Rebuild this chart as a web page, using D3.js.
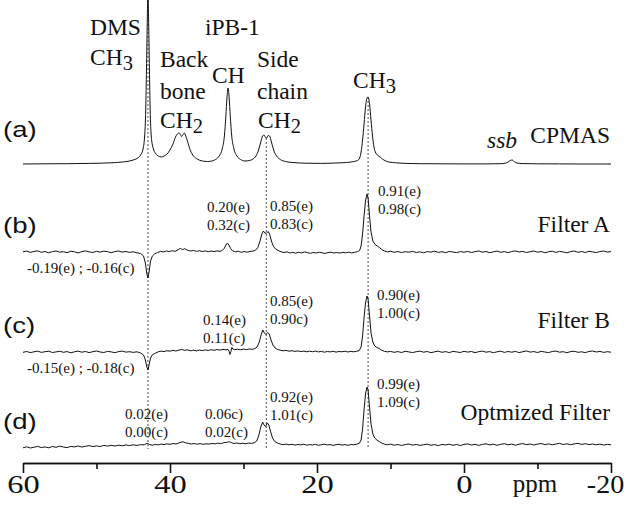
<!DOCTYPE html>
<html>
<head>
<meta charset="utf-8">
<script src="https://cdn.jsdelivr.net/npm/d3@7"></script>
<style>
    body { margin: 0; background: #fff; }
    svg { display: block; }
</style>
</head>
<body>
<div id="chart"></div>
<script>

// axis ticks (ppm)
const ppmTicks = [60, 40, 20, 0, -20];
const ppmMinorTicks = [50, 30, 10, -10];

// traces, from top to bottom
const traceIds = ["a", "b", "c", "d"];
const traceLabels = ["(a)", "(b)", "(c)", "(d)"];
const filterNames = ["CPMAS", "Filter A", "Filter B", "Optmized Filter"];

// dotted reference lines: DMS, side chain CH2, CH3
const markerPpm = [43.0, 26.9, 13.05];

// ratio annotations for each filtered trace
const ratiosB = [["0.20(e)", "0.32(c)"], ["0.85(e)", "0.83(c)"], ["0.91(e)", "0.98(c)"], ["-0.19(e) ; -0.16(c)"]];
const ratiosC = [["0.14(e)", "0.11(c)"], ["0.85(e)", "0.90c)"], ["0.90(e)", "1.00(c)"], ["-0.15(e) ; -0.18(c)"]];
const ratiosD = [["0.02(e)", "0.00(c)"], ["0.06c)", "0.02(c)"], ["0.92(e)", "1.01(c)"], ["0.99(e)", "1.09(c)"]];

// spectra: [ppm, intensity (a.u.)]
const spectrumA = [
    [60, 0], [57, 0.2], [54, 0.3], [51, 0.6], [48, 1.2], [46.5, 2], [45.5, 3], [45, 4], [44.5, 5.5], [44, 9],
    [43.7, 14], [43.45, 28], [43.3, 55], [43.2, 95], [43.1, 140], [43.0, 172], [42.9, 140], [42.8, 95], [42.7, 55],
    [42.55, 28], [42.3, 16], [42.0, 11], [41.6, 8], [41.2, 7], [40.8, 8], [40.4, 10], [40.0, 14], [39.6, 20],
    [39.25, 27], [39.0, 30], [38.75, 31], [38.55, 29], [38.4, 27.5], [38.25, 29], [38.05, 31], [37.85, 28],
    [37.55, 21], [37.2, 13], [36.8, 8], [36.3, 5], [35.6, 3], [34.9, 2.5], [34.3, 3], [33.8, 4.5], [33.3, 8],
    [32.9, 15], [32.6, 28], [32.4, 48], [32.25, 66], [32.1, 76], [31.95, 66], [31.8, 48], [31.6, 28], [31.3, 15],
    [30.9, 8], [30.4, 4.5], [29.8, 3], [29.2, 3.5], [28.7, 5], [28.3, 8], [27.95, 14], [27.65, 22], [27.4, 28],
    [27.2, 29], [27.0, 26.5], [26.85, 26], [26.65, 28.5], [26.45, 28], [26.2, 22], [25.9, 14], [25.5, 8], [25.0, 4.5],
    [24.3, 2.5], [23.3, 1.5], [21.5, 0.8], [19.5, 0.6], [17.5, 1], [16, 1.5], [15, 2.5], [14.5, 3.5], [14.2, 6],
    [14.0, 12], [13.8, 24], [13.6, 40], [13.4, 57], [13.2, 66], [13.05, 67], [12.85, 60], [12.65, 44], [12.45, 28],
    [12.25, 17], [12.0, 11], [11.7, 8.5], [11.4, 7], [11.1, 5], [10.7, 3.2], [10.2, 2], [9.3, 1.2], [8, 0.6],
    [6, 0.3], [3, 0.2], [0, 0.1], [-3, 0.1], [-5, 0.3], [-5.6, 0.8], [-6.0, 2], [-6.3, 3.5], [-6.55, 4], [-6.8, 2.5],
    [-7.2, 1], [-8, 0.4], [-10, 0.2], [-13, 0.1], [-16, 0], [-20, 0]
];

const spectrumB = [
    [60, 0.2], [59.5, 0.9], [59, -0.4], [58.5, 0.6], [58, 1.2], [57.5, -0.3], [57, 0.5], [56.5, -0.8], [56, 0.4],
    [55.5, 1.0], [55, -0.2], [54.5, 0.3], [54, -0.7], [53.5, 0.8], [53, 0.2], [52.5, -0.9], [52, 0.4], [51.5, 1.1],
    [51, 0.1], [50.5, -0.5], [50, 0.7], [49.5, -0.2], [49, 0.9], [48.5, 0.3], [48, -0.7], [47.5, 0.4], [47, 1.0],
    [46.5, -0.1], [46, 0.5], [45.5, -0.4], [45, 0.2], [44.5, -0.8], [44, -1.5], [43.6, -4], [43.35, -11],
    [43.15, -22], [43.0, -26], [42.85, -20], [42.65, -9], [42.4, -4], [42.1, -2], [41.7, -0.5], [41.3, 0.6],
    [40.9, 0.1], [40.5, 1.0], [40.1, 0.4], [39.7, 1.3], [39.3, 0.7], [38.9, 2.2], [38.6, 3.6], [38.3, 2.4],
    [38.0, 3.3], [37.6, 1.8], [37.2, 1.0], [36.8, 1.6], [36.4, 0.6], [36.0, 1.3], [35.6, 0.4], [35.2, 1.1],
    [34.8, 0.3], [34.4, 1.0], [34.0, 0.4], [33.6, 1.1], [33.2, 0.6], [32.9, 1.6], [32.6, 3.8], [32.4, 7], [32.2, 9],
    [32.0, 7], [31.75, 3.5], [31.5, 1.2], [31.1, 0.2], [30.7, 0.7], [30.3, -0.3], [29.9, 0.5], [29.5, -0.2],
    [29.1, 0.6], [28.7, 0.9], [28.35, 1.8], [28.05, 4.5], [27.75, 11], [27.5, 18], [27.3, 21], [27.1, 19],
    [26.9, 18.5], [26.65, 20.5], [26.45, 18], [26.2, 11], [25.95, 6], [25.65, 3], [25.3, 1.5], [24.9, 0.3],
    [24.5, -0.6], [24.1, 0.2], [23.7, -1.0], [23.3, -0.4], [22.9, -1.2], [22.5, -0.3], [22.1, -0.9], [21.7, 0.1],
    [21.3, -0.7], [20.9, -1.3], [20.5, -0.5], [20.1, -1.0], [19.7, -0.2], [19.3, -0.8], [18.9, -1.4], [18.5, -0.6],
    [18.1, -0.2], [17.7, -1.0], [17.3, -0.5], [16.9, -1.1], [16.5, -0.3], [16.1, -0.8], [15.7, -0.2], [15.3, -0.9],
    [14.9, -0.3], [14.5, 0.3], [14.2, 1.5], [14.0, 6], [13.8, 18], [13.6, 36], [13.4, 51], [13.2, 58], [13.05, 54],
    [12.85, 36], [12.65, 20], [12.4, 11], [12.1, 7.5], [11.8, 6], [11.5, 4.5], [11.2, 2.5], [10.8, 1.0], [10.4, 0.1],
    [10.0, 0.8], [9.5, -0.3], [9.0, 0.5], [8.5, -0.6], [8.0, 0.3], [7.5, -0.2], [7.0, 0.7], [6.5, -0.5], [6.0, 0.2],
    [5.5, -0.8], [5.0, 0.4], [4.5, -0.1], [4.0, 0.8], [3.5, -0.4], [3.0, 0.3], [2.5, -0.7], [2.0, 0.5], [1.5, 0],
    [1.0, -0.6], [0.5, 0.4], [0, -0.2], [-0.5, 0.6], [-1.0, -0.5], [-1.5, 0.3], [-2.0, 1.0], [-2.5, -0.2],
    [-3.0, 0.5], [-3.5, -0.7], [-4.0, 0.2], [-4.5, 0.9], [-5.0, -0.3], [-5.5, 0.4], [-6.0, -0.6], [-6.5, 0.5],
    [-7.0, 1.1], [-7.5, 0], [-8.0, 0.6], [-8.5, -0.5], [-9.0, 0.3], [-9.5, 1.0], [-10.0, -0.2], [-10.5, 0.5],
    [-11.0, -0.7], [-11.5, 0.2], [-12.0, 0.8], [-12.5, -0.4], [-13.0, 0.6], [-13.5, 0], [-14.0, -0.8], [-14.5, 0.4],
    [-15.0, 1.0], [-15.5, -0.3], [-16.0, 0.5], [-16.5, -0.5], [-17.0, 0.7], [-17.5, 0.1], [-18.0, -0.6],
    [-18.5, 0.5], [-19.0, 1.0], [-19.5, 0], [-20.0, 0.4]
];

const spectrumC = [
    [60, -0.3], [59.5, 0.5], [59, -0.6], [58.5, 0.2], [58, 0.9], [57.5, -0.4], [57, 0.3], [56.5, 0.8], [56, -0.5],
    [55.5, 0.1], [55, 0.7], [54.5, -0.3], [54, 0.4], [53.5, -0.8], [53, 0.2], [52.5, 0.9], [52, -0.2], [51.5, 0.5],
    [51, -0.6], [50.5, 0.3], [50, 1.0], [49.5, 0], [49, -0.5], [48.5, 0.6], [48, 0.1], [47.5, -0.7], [47, 0.4],
    [46.5, 0.9], [46, -0.1], [45.5, 0.3], [45, -0.4], [44.5, 0.2], [44, -1.0], [43.6, -3], [43.35, -8],
    [43.15, -15], [43.0, -18], [42.85, -13], [42.65, -6], [42.4, -2.8], [42.0, -1.2], [41.6, 0.2], [41.2, 0.9],
    [40.8, 0.4], [40.4, 1.3], [40.0, 0.8], [39.6, 1.6], [39.2, 1.0], [38.8, 1.9], [38.4, 2.6], [38.0, 1.6],
    [37.6, 2.2], [37.2, 1.2], [36.8, 1.8], [36.4, 1.1], [36.0, 2.0], [35.6, 1.4], [35.2, 2.1], [34.8, 1.5],
    [34.4, 2.3], [34.0, 1.7], [33.6, 2.5], [33.2, 1.9], [32.8, 2.6], [32.4, 2.2], [32.1, 2.6], [31.95, 0.5],
    [31.85, -2.5], [31.72, 0.5], [31.58, 4.5], [31.45, 3], [31.2, 2.3], [30.8, 2.8], [30.4, 2.2], [30.0, 2.9],
    [29.6, 2.4], [29.2, 3.0], [28.8, 2.7], [28.45, 3.4], [28.15, 5], [27.85, 10], [27.6, 17], [27.38, 22],
    [27.15, 19], [26.95, 17.5], [26.7, 19.5], [26.5, 18], [26.25, 12], [26.0, 7], [25.7, 4], [25.35, 2.5],
    [25.0, 1.8], [24.6, 1.2], [24.2, 1.6], [23.8, 0.8], [23.4, 1.3], [23.0, 0.6], [22.6, 1.1], [22.2, 0.4],
    [21.8, 0.9], [21.4, 0.2], [21.0, 0.8], [20.6, 0.3], [20.2, 0.9], [19.8, 0.1], [19.4, 0.6], [19.0, -0.2],
    [18.6, 0.5], [18.2, 0.1], [17.8, 0.7], [17.4, -0.1], [17.0, 0.5], [16.6, 0.2], [16.2, 0.8], [15.8, 0],
    [15.4, 0.6], [15.0, 0.2], [14.6, 0.7], [14.25, 1.4], [14.0, 5], [13.8, 16], [13.6, 34], [13.4, 49], [13.2, 56],
    [13.05, 53], [12.85, 36], [12.65, 19], [12.4, 10], [12.15, 6], [11.85, 4.5], [11.55, 3.5], [11.2, 1.8],
    [10.8, 0.6], [10.4, 0.1], [10.0, 0.6], [9.5, -0.3], [9.0, 0.4], [8.5, -0.5], [8.0, 0.7], [7.5, 0.1], [7.0, -0.6],
    [6.5, 0.3], [6.0, 0.9], [5.5, -0.2], [5.0, 0.5], [4.5, -0.7], [4.0, 0.2], [3.5, 0.8], [3.0, -0.3], [2.5, 0.4],
    [2.0, -0.6], [1.5, 0.6], [1.0, 0.1], [0.5, -0.5], [0, 0.7], [-0.5, -0.1], [-1.0, 0.5], [-1.5, -0.6], [-2.0, 0.3],
    [-2.5, 0.9], [-3.0, -0.2], [-3.5, 0.4], [-4.0, -0.7], [-4.5, 0.2], [-5.0, 0.8], [-5.5, -0.4], [-6.0, 0.5],
    [-6.5, -0.2], [-7.0, 0.6], [-7.5, -0.6], [-8.0, 0.3], [-8.5, 1.0], [-9.0, -0.1], [-9.5, 0.4], [-10.0, -0.5],
    [-10.5, 0.6], [-11.0, 0], [-11.5, -0.6], [-12.0, 0.5], [-12.5, 0.9], [-13.0, -0.2], [-13.5, 0.3], [-14.0, -0.7],
    [-14.5, 0.4], [-15.0, 0.8], [-15.5, -0.3], [-16.0, 0.2], [-16.5, -0.6], [-17.0, 0.5], [-17.5, 1.0], [-18.0, 0],
    [-18.5, 0.6], [-19.0, -0.4], [-19.5, 0.3], [-20.0, -0.2]
];

const spectrumD = [
    [60, -2.8], [59.5, -1.8], [59, -3.0], [58.5, -2.2], [58, -1.4], [57.5, -2.6], [57, -1.9], [56.5, -2.8],
    [56, -1.5], [55.5, -2.3], [55, -1.2], [54.5, -2.0], [54, -2.6], [53.5, -1.4], [53, -1.9], [52.5, -1.0],
    [52, -2.0], [51.5, -1.3], [51, -0.6], [50.5, -1.6], [50, -0.9], [49.5, -1.5], [49, -0.4], [48.5, -1.1],
    [48, -0.3], [47.5, -1.0], [47, -0.2], [46.5, -0.8], [46, 0.1], [45.5, -0.6], [45, 0.2], [44.5, -0.4], [44, 0.3],
    [43.5, 0.2], [43.1, 1.8], [42.8, 0.5], [42.4, -0.2], [42.0, 0.6], [41.6, 0.1], [41.2, 0.9], [40.8, 0.4],
    [40.4, 1.2], [40.0, 0.7], [39.6, 1.5], [39.2, 1.0], [38.8, 2.0], [38.5, 2.8], [38.2, 3.2], [37.9, 2.2],
    [37.5, 1.6], [37.1, 1.0], [36.7, 1.5], [36.3, 0.8], [35.9, 1.4], [35.5, 0.7], [35.1, 1.2], [34.7, 0.9],
    [34.3, 1.6], [33.9, 1.1], [33.5, 1.8], [33.1, 1.4], [32.7, 2.3], [32.3, 2.6], [31.95, 3.3], [31.6, 2.2],
    [31.3, 1.5], [30.9, 2.0], [30.5, 1.3], [30.1, 1.8], [29.7, 1.2], [29.3, 1.9], [28.9, 1.6], [28.5, 2.4],
    [28.2, 4], [27.9, 10], [27.65, 18], [27.4, 23], [27.2, 20], [27.0, 18.5], [26.75, 22], [26.55, 20], [26.3, 13],
    [26.05, 7], [25.75, 3.5], [25.4, 2], [25.0, 1.0], [24.6, 0.3], [24.2, 0.9], [23.8, 0.2], [23.4, 0.7],
    [23.0, -0.1], [22.6, 0.5], [22.2, 0.1], [21.8, 0.8], [21.4, -0.2], [21.0, 0.4], [20.6, 0.0], [20.2, 0.7],
    [19.8, -0.3], [19.4, 0.3], [19.0, 0.8], [18.6, 0.0], [18.2, 0.5], [17.8, -0.4], [17.4, 0.3], [17.0, 0.7],
    [16.6, -0.1], [16.2, 0.4], [15.8, -0.3], [15.4, 0.5], [15.0, 0.2], [14.6, 0.8], [14.25, 1.6], [14.0, 5],
    [13.8, 16], [13.6, 35], [13.4, 51], [13.2, 58], [13.05, 55], [12.85, 38], [12.65, 21], [12.4, 11], [12.15, 7],
    [11.85, 5], [11.55, 3.5], [11.2, 2], [10.8, 0.8], [10.4, 0.2], [10.0, 0.9], [9.5, -0.2], [9.0, 0.5], [8.5, -0.5],
    [8.0, 0.4], [7.5, 1.0], [7.0, -0.1], [6.5, 0.6], [6.0, -0.4], [5.5, 0.3], [5.0, 0.9], [4.5, -0.3], [4.0, 0.4],
    [3.5, -0.6], [3.0, 0.5], [2.5, 0.1], [2.0, 0.8], [1.5, -0.3], [1.0, 0.5], [0.5, -0.5], [0, 0.6], [-0.5, 1.1],
    [-1.0, 0], [-1.5, 0.7], [-2.0, -0.4], [-2.5, 0.6], [-3.0, 1.2], [-3.5, 0.1], [-4.0, 0.8], [-4.5, -0.3],
    [-5.0, 0.7], [-5.5, 1.3], [-6.0, 0.2], [-6.5, 0.9], [-7.0, -0.2], [-7.5, 0.8], [-8.0, 1.4], [-8.5, 0.3],
    [-9.0, 1.0], [-9.5, 0], [-10.0, 0.9], [-10.5, 1.5], [-11.0, 0.4], [-11.5, 1.1], [-12.0, 0.2], [-12.5, 1.0],
    [-13.0, 1.6], [-13.5, 0.5], [-14.0, 1.2], [-14.5, 0.3], [-15.0, 1.1], [-15.5, 1.7], [-16.0, 0.6], [-16.5, 1.3],
    [-17.0, 0.4], [-17.5, 1.0], [-18.0, 0.2], [-18.5, 0.9], [-19.0, -0.1], [-19.5, 0.6], [-20.0, 0.2]
];


class SpectraVis {

    constructor(parentElement) {
        this.parentElement = parentElement;
        this.spectra = [spectrumA, spectrumB, spectrumC, spectrumD];
        this.ratios = [[], ratiosB, ratiosC, ratiosD];

        this.serif = "'Liberation Serif', 'Times New Roman', Times, serif";
        this.sans = "'Liberation Sans', Arial, Helvetica, sans-serif";

        this.initVis();
    }

    initVis() {
        let vis = this;

        vis.width = 630;
        vis.height = 505;

        vis.svg = d3.select("#" + vis.parentElement).append("svg")
            .attr("width", vis.width)
            .attr("height", vis.height)
            .style("background", "#fff");

        // ppm runs right to left
        vis.x = d3.scaleLinear()
            .domain([60, -20])
            .range([23, 611]);

        // baseline of every trace
        vis.baseline = d3.scaleOrdinal()
            .domain(traceIds)
            .range([164, 252, 352, 445]);

        // one intensity unit = one pixel
        vis.yFor = id => d3.scaleLinear()
            .domain([0, 100])
            .range([vis.baseline(id), vis.baseline(id) - 100]);

        vis.drawMarkers();
        vis.drawTraces();
        vis.drawAxis();
        vis.drawLabels();
    }

    drawMarkers() {
        let vis = this;
        let yA = vis.yFor("a");

        vis.svg.append("g")
            .attr("class", "markers")
            .selectAll("line")
            .data(markerPpm)
            .enter().append("line")
            .attr("x1", d => vis.x(d))
            .attr("x2", d => vis.x(d))
            .attr("y1", d => yA(d3.least(spectrumA, p => Math.abs(p[0] - d))[1]))
            .attr("y2", vis.baseline("d") + 4)
            .attr("stroke", "#222")
            .attr("stroke-width", 0.8)
            .attr("stroke-dasharray", "2,2");
    }

    drawTraces() {
        let vis = this;

        traceIds.forEach((id, i) => {
            let y = vis.yFor(id);
            let line = d3.line()
                .x(d => vis.x(d[0]))
                .y(d => y(d[1]))
                .curve(id === "a" ? d3.curveMonotoneX : d3.curveLinear);

            vis.svg.append("path")
                .datum(vis.spectra[i].slice().reverse())
                .attr("class", "trace trace-" + id)
                .attr("fill", "none")
                .attr("stroke", "#111")
                .attr("stroke-width", 1)
                .attr("stroke-linejoin", "round")
                .attr("d", line);
        });
    }

    drawAxis() {
        let vis = this;
        let axisY = 463;

        let major = d3.axisBottom(vis.x)
            .tickValues(ppmTicks)
            .tickSize(10)
            .tickSizeOuter(0)
            .tickFormat(d => String(d));

        let minor = d3.axisBottom(vis.x)
            .tickValues(ppmMinorTicks)
            .tickSize(6)
            .tickSizeOuter(0)
            .tickFormat("");

        vis.svg.append("g")
            .attr("class", "x-axis minor")
            .attr("transform", `translate(0, ${axisY})`)
            .call(minor);

        vis.xAxisG = vis.svg.append("g")
            .attr("class", "x-axis")
            .attr("transform", `translate(0, ${axisY})`)
            .call(major);

        vis.svg.selectAll(".x-axis path, .x-axis line")
            .attr("stroke", "#111")
            .attr("stroke-width", 1.6);

        // the printed tick numbers are set wide; the last one is pulled in from the edge
        let last = ppmTicks[ppmTicks.length - 1];
        vis.xAxisG.selectAll("text")
            .attr("font-family", vis.serif)
            .attr("font-size", 25)
            .attr("fill", "#111")
            .attr("dy", null)
            .attr("y", 0)
            .attr("transform", d => d === last
                ? "translate(-6, 30) scale(1.12, 1)"
                : "translate(0, 30) scale(1.3, 1)");

        vis.svg.append("text")
            .attr("x", 535)
            .attr("y", 492)
            .attr("text-anchor", "middle")
            .attr("font-family", vis.serif)
            .attr("font-size", 25)
            .attr("fill", "#111")
            .text("ppm");
    }

    // helper for a label with a subscript
    subText(x, y, main, sub, size) {
        let vis = this;
        let t = vis.svg.append("text")
            .attr("x", x)
            .attr("y", y)
            .attr("font-family", vis.serif)
            .attr("font-size", size)
            .attr("fill", "#111")
            .text(main);
        if (sub) {
            t.append("tspan")
                .attr("dy", 5)
                .attr("font-size", size - 3)
                .text(sub);
        }
        return t;
    }

    drawLabels() {
        let vis = this;
        let big = 23.5;

        // peak assignments above trace (a)
        vis.subText(90, 35, "DMS", null, big);
        vis.subText(90, 65, "CH", "3", big);
        vis.subText(205, 35, "iPB-1", null, big);
        vis.subText(160, 67, "Back", null, big);
        vis.subText(160, 99, "bone", null, big);
        vis.subText(160, 128, "CH", "2", big);
        vis.subText(212, 83, "CH", null, big);
        vis.subText(257, 67, "Side", null, big);
        vis.subText(257, 99, "chain", null, big);
        vis.subText(258, 128, "CH", "2", big);
        vis.subText(353, 88, "CH", "3", big);

        vis.svg.append("text")
            .attr("x", 487)
            .attr("y", 148)
            .attr("font-family", vis.serif)
            .attr("font-style", "italic")
            .attr("font-size", big)
            .attr("fill", "#111")
            .text("ssb");

        // trace letters and filter names
        let letterY = [137, 233, 333, 429];
        let nameY = [143, 232, 328, 420];

        vis.svg.append("g").selectAll("text")
            .data(traceLabels)
            .enter().append("text")
            .attr("transform", (d, i) => `translate(3, ${letterY[i]}) scale(1.25, 1)`)
            .attr("font-family", vis.sans)
            .attr("font-size", 22)
            .attr("fill", "#111")
            .text(d => d);

        vis.svg.append("g").selectAll("text")
            .data(filterNames)
            .enter().append("text")
            .attr("x", 610)
            .attr("y", (d, i) => nameY[i])
            .attr("text-anchor", "end")
            .attr("font-family", vis.serif)
            .attr("font-size", big)
            .attr("fill", "#111")
            .text(d => d);

        // ratio annotations: [x, first baseline] for each group
        let ratioPos = [
            [],
            [[207, 212], [270, 211], [378, 196], [27, 273]],
            [[203, 325], [270, 306], [377, 300], [27, 373]],
            [[125, 419], [205, 419], [270, 402], [377, 389]]
        ];

        vis.ratios.forEach((groups, i) => {
            groups.forEach((lines, j) => {
                let pos = ratioPos[i][j];
                lines.forEach((txt, k) => {
                    vis.svg.append("text")
                        .attr("x", pos[0])
                        .attr("y", pos[1] + k * 17.5)
                        .attr("font-family", vis.serif)
                        .attr("font-size", 15)
                        .attr("fill", "#111")
                        .text(txt);
                });
            });
        });
    }
}

new SpectraVis("chart");

</script>
</body>
</html>
